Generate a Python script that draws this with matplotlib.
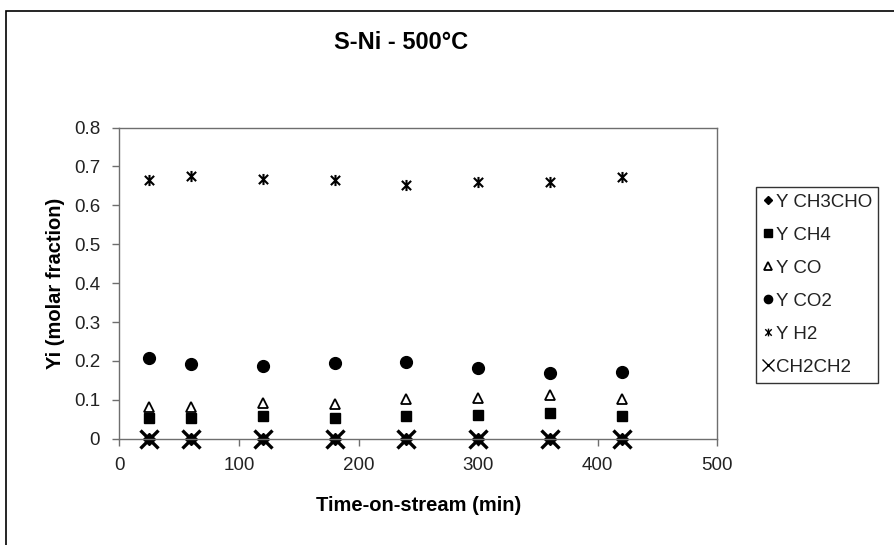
import numpy as np
import matplotlib
matplotlib.use("Agg")
from matplotlib import pyplot as plt
from matplotlib.path import Path
from matplotlib.patches import Rectangle

# Yi vs time-on-stream, S-Ni at 500 C
time_min = [25, 60, 120, 180, 240, 300, 360, 420]
y_ch3cho = [0, 0, 0, 0, 0, 0, 0, 0]
y_ch4 = [0.053, 0.053, 0.058, 0.054, 0.058, 0.062, 0.066, 0.058]
y_co = [0.082, 0.082, 0.093, 0.090, 0.101, 0.105, 0.112, 0.103]
y_co2 = [0.207, 0.192, 0.187, 0.195, 0.197, 0.181, 0.170, 0.172]
y_h2 = [0.665, 0.675, 0.668, 0.665, 0.653, 0.660, 0.660, 0.674]
y_ch2ch2 = [0, 0, 0, 0, 0, 0, 0, 0]

plt.rcParams['font.family'] = ['Liberation Sans', 'DejaVu Sans']

# excel-like star: an X with a vertical bar through it
star = Path([(-1, -1), (1, 1), (-1, 1), (1, -1), (0, -1.2), (0, 1.2)],
            [Path.MOVETO, Path.LINETO] * 3)

fig = plt.figure(figsize=(8.95, 5.45), dpi=100)
ax = fig.add_axes([0.1335, 0.195, 0.668, 0.571])

# outer chart border (left/top only visible in the crop)
fig.patches.append(Rectangle((6 / 895, -0.1), 2, 1 - 11 / 545 + 0.1,
                             transform=fig.transFigure, fill=False,
                             edgecolor='black', lw=1.2))

kw = dict(linestyle='none', color='black', clip_on=False)
ax.plot(time_min, y_ch3cho, marker='D', markersize=6, label='Y CH3CHO', **kw)
ax.plot(time_min, y_ch4, marker='s', markersize=7.5, label='Y CH4', **kw)
ax.plot(time_min, y_co, marker='^', markersize=7.5, markerfacecolor='white',
        markeredgewidth=1.3, label='Y CO', **kw)
ax.plot(time_min, y_co2, marker='o', markersize=8.5, label='Y CO2', **kw)
ax.plot(time_min, y_h2, marker=star, markersize=8, markeredgewidth=1.5,
        label='Y H2', **kw)
ax.plot(time_min, y_ch2ch2, marker='x', markersize=12.5, markeredgewidth=2.4,
        label='CH2CH2', **kw)

ax.set_xlim(0, 500)
ax.set_ylim(0, 0.8)
ax.set_xticks(np.arange(0, 501, 100))
ax.set_yticks(np.arange(0, 0.81, 0.1))
ax.set_yticklabels(['0', '0.1', '0.2', '0.3', '0.4', '0.5', '0.6', '0.7', '0.8'])

for s in ax.spines.values():
    s.set_color('#6e6e6e')
    s.set_linewidth(1.0)
ax.tick_params(direction='out', length=5, width=1, color='#6e6e6e',
               labelsize=13.5, labelcolor='#222222')
ax.tick_params(axis='x', pad=8)
ax.tick_params(axis='y', pad=9)

ax.set_xlabel('Time-on-stream (min)', fontsize=14.5, fontweight='bold', labelpad=16)
ax.set_ylabel('Yi (molar fraction)', fontsize=14.5, fontweight='bold', labelpad=6)
fig.text(0.448, 0.922, 'S-Ni - 500°C', ha='center', va='center',
         fontsize=17, fontweight='bold')

leg = fig.legend(loc='upper left', bbox_to_anchor=(756 / 895, 1 - 187 / 545),
                 frameon=True, fancybox=False, edgecolor='black',
                 fontsize=13.5, handlelength=0.55, handletextpad=0.15,
                 labelspacing=0.85, borderpad=0.35, borderaxespad=0,
                 markerscale=0.7)
leg.get_frame().set_linewidth(1.0)
for t in leg.get_texts():
    t.set_color('#222222')
# thin cross in the legend, like the original
leg.legend_handles[-1].set_markeredgewidth(1.0)
leg.legend_handles[4].set_markeredgewidth(1.0)

fig.savefig('out.png', dpi=100)
